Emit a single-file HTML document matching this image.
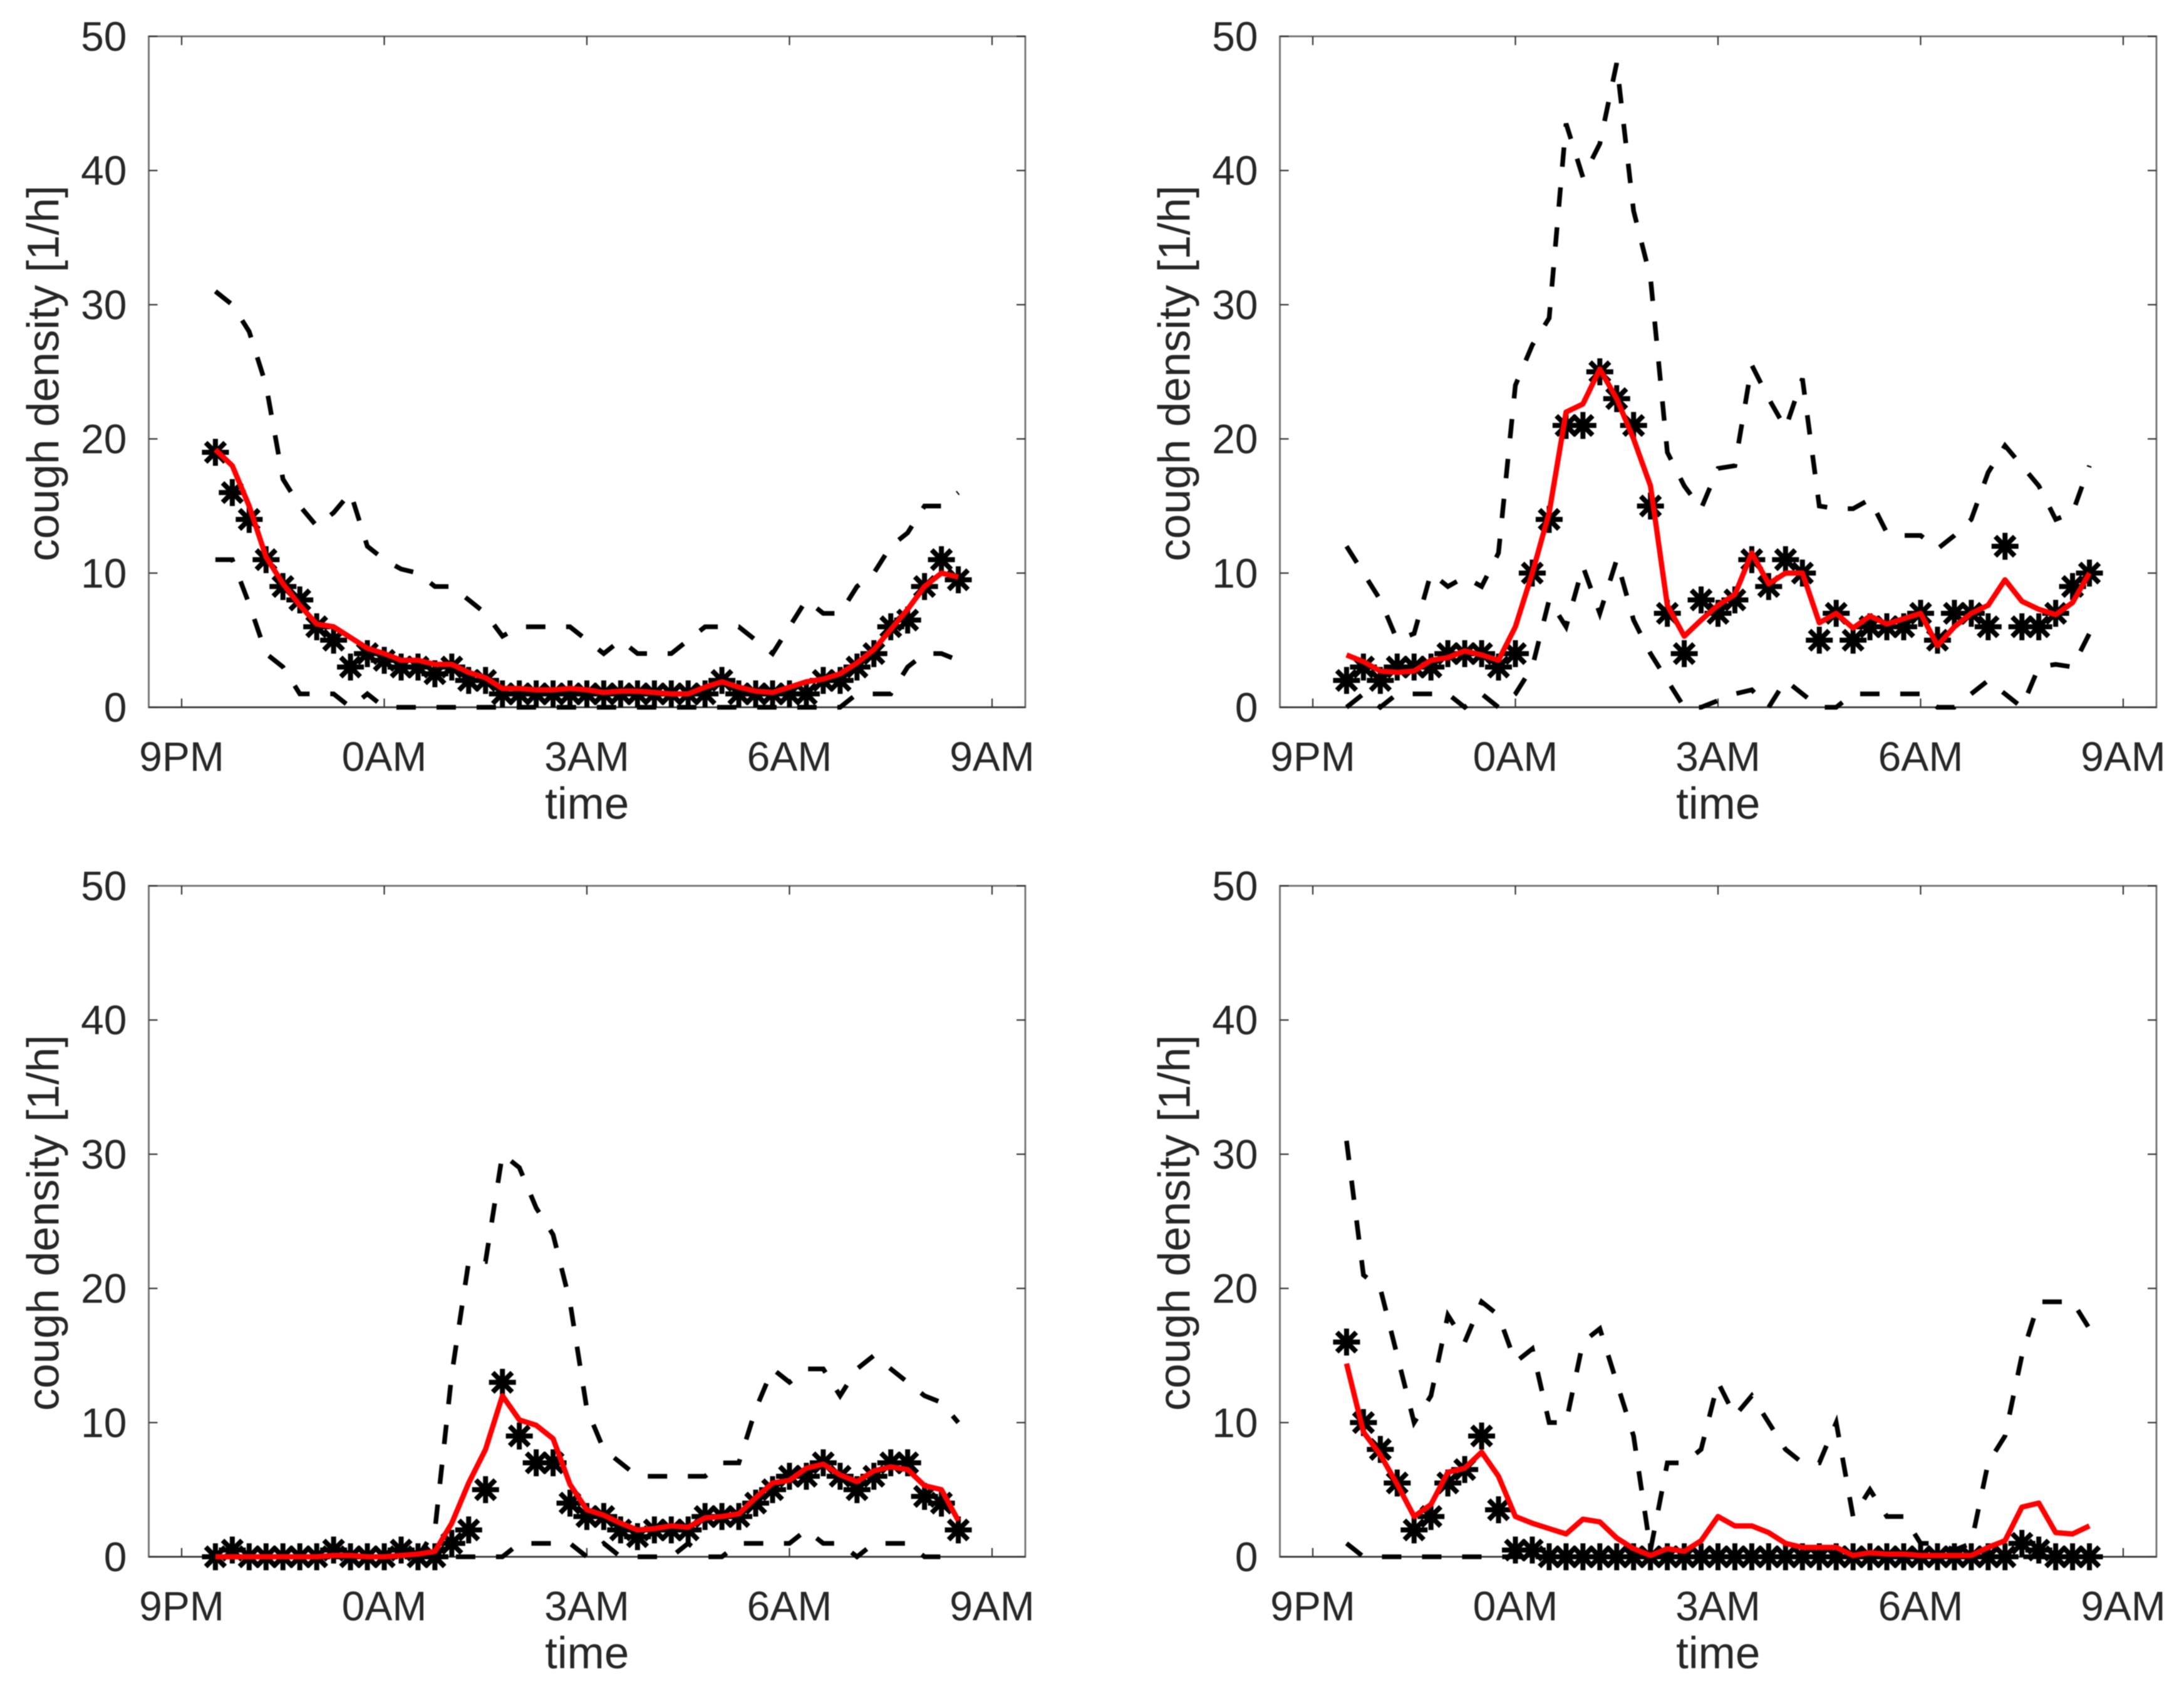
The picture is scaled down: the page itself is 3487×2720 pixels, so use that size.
<!DOCTYPE html>
<html>
<head>
<meta charset="utf-8">
<title>Cough density panels</title>
<style>
html,body{margin:0;padding:0;background:#fff;}
svg{display:block;filter:blur(0.7px);}
text{font-family:"Liberation Sans",sans-serif;fill:#262626;}
</style>
</head>
<body>
<svg id="figure" xmlns="http://www.w3.org/2000/svg" width="3487" height="2720" viewBox="0 0 3487 2720">
<rect x="0" y="0" width="3487" height="2720" fill="#ffffff"/>
</svg>
<script>
const sampleHours = [0.5,0.75,1,1.25,1.5,1.75,2,2.25,2.5,2.75,3,3.25,3.5,3.75,4,4.25,4.5,4.75,5,5.25,5.5,5.75,6,6.25,6.5,6.75,7,7.25,7.5,7.75,8,8.25,8.5,8.75,9,9.25,9.5,9.75,10,10.25,10.5,10.75,11,11.25,11.5];
const xTickHours = [0,3,6,9,12];
const xTickLabels = ['9PM','0AM','3AM','6AM','9AM'];
const yTickValues = [0,10,20,30,40,50];

const panel1Counts = [19,16,14,11,9,8,6,5,3,4,3.5,3,3,2.5,3,2,2,1,1,1,1,1,1,1,1,1,1,1,1,1,2,1,1,1,1,1,2,2,3,4,6,6.5,9,11,9.5];
const panel1Median = [19.2,18,15,11.2,9.2,7.6,6.2,6,5.2,4.4,4,3.5,3.5,3.2,3.2,2.6,2.2,1.4,1.4,1.3,1.3,1.4,1.3,1.1,1.2,1.2,1.1,1,1,1.5,1.9,1.5,1.2,1.1,1.5,1.9,2.1,2.5,3.3,4.3,5.8,7.3,9,10,9.7];
const panel1Upper = [31,30,28,24,17,15,13.5,14.5,16,12,11,10.3,10,9,9,8,7,5.3,6,6,6,6,5,4,5,4,4,4,5,6,6,6,5,4,6,8,7,7,9,10,12,13,15,15,16];
const panel1Lower = [11,11,7.7,4,3,1,1,1,0,1,0,0,0,0,0,0,0,0,0,0,0,0,0,0,0,0,0,0,0,0,0,0,0,0,0,0,0,0,1,1,1,3,4,4,3.5];

const panel2Counts = [2,3,2,3,3,3,4,4,4,3,4,10,14,21,21,25,23,21,15,7,4,8,7,8,11,9,11,10,5,7,5,6,6,6,7,5,7,7,6,12,6,6,7,9,10];
const panel2Median = [3.9,3.4,2.7,2.6,2.7,3.5,3.7,4.2,3.9,3.5,6,10,14.5,22,22.6,25.2,23,20,16.5,7.6,5.3,6.5,7.6,8.4,11.5,9.2,10,10,6.3,7,5.9,6.8,6.2,6.6,7,4.6,6,7,7.6,9.5,7.9,7.3,6.9,7.8,10];
const panel2Upper = [12,10,8,5,5.5,10,9,9.7,9,11.5,24,27,29,43.5,39.5,42,48,37,32,19,16.5,14.8,17.8,18,25.5,23,20.8,24.5,15,14.8,14.8,15.5,13,12.8,12.8,11.8,12.8,14,17.5,19.5,18,16.5,14,14.5,18];
const panel2Lower = [0,1,0,1,1,1,1,0,1,0,1,3,8,6,10.5,7,11,6.5,4,2,0,0,0.5,1,1.3,0,2,1,0,0,1,1,1,1,1,0,0,1,2,1,0,3,3.2,3,5.5];

const panel3Counts = [0,0.5,0,0,0,0,0,0.5,0,0,0,0.5,0,0,1,2,5,13,9,7,7,4,3,3,2,1.5,2,2,2,3,3,3,4,5,6,6,7,6,5,6,7,7,4.5,4,2];
const panel3Median = [0,0,0,0,0,0,0,0.1,0.1,0,0,0.1,0.2,0.4,2.5,5.5,8,12,10.2,9.8,8.8,5.4,3.5,3.1,2.5,2,2.1,2.3,2.2,2.9,3,3.2,4.4,5.5,5.7,6.6,6.9,6.1,5.6,6.4,6.7,6.5,5.3,5,2.7];
const panel3Upper = [0,0,0,0,0,0,0,0,0,0,0,0,0,2,13.6,22,22,30,29,26,24,19,11,8,7,6,6,6,6,6,7,7,11,14,13,14,14,12,14,15,14,13,12,11.5,10];
const panel3Lower = [0,0,0,0,0,0,0,0,0,0,0,0,0,0,0,0,0,0,1,1,1,1,0,1,0,0,0,0,1,0,0,1,1,1,1,2,1,1,0,1,1,1,0,0,0];

const panel4Counts = [16,10,8,5.5,2,3,5.5,6.5,9,3.5,0.5,0.5,0,0,0,0,0,0,0,0,0,0,0,0,0,0,0,0,0,0,0,0,0,0,0,0,0,0,0,0,1,0.5,0,0,0];
const panel4Median = [14.4,9.3,7.6,5.4,3,3.9,6.3,6.6,7.8,6,3,2.5,2.1,1.7,2.8,2.6,1.4,0.6,0.1,0.6,0.4,1.2,3,2.3,2.3,1.8,1,0.7,0.7,0.7,0.1,0.3,0.2,0.2,0.1,0.1,0.1,0.1,0.7,1.2,3.7,4,1.8,1.7,2.3];
const panel4Upper = [31,21,20,15,10,12,18,16,19,18,14.5,15.5,10,10,16,17,13,9,0.5,7,7,8,13,10.5,12,10,8,7,7,10,3,5,3,3,1,1,0.5,1,7,9,15,19,19,19,17];
const panel4Lower = [1,0,0,0,0,0,0,0,0,0,0,0,0,0,0,0,0,0,0,0,0,0,0,0,0,0,0,0,0,0,0,0,0,0,0,0,0,0,0,0,0,0,0,0,0];

const svgNS = 'http://www.w3.org/2000/svg';
const fig = document.getElementById('figure');
const xMinHour = -0.487;
const xMaxHour = 12.492;
const yMaxValue = 50;

function svgEl(tag, parent) {
  const el = document.createElementNS(svgNS, tag);
  parent.appendChild(el);
  return el;
}

function drawPanel(panelName, left, top, counts, median, upper, lower) {
  const width = 1399.5;
  const height = 1071;
  const right = left + width;
  const bottom = top + height;
  const sx = function (h) { return left + (h - xMinHour) / (xMaxHour - xMinHour) * width; };
  const sy = function (v) { return bottom - v / yMaxValue * height; };

  const g = svgEl('g', fig);
  
  

  const frame = svgEl('rect', g);
  
  
  frame.setAttribute('x', left);
  frame.setAttribute('y', top);
  frame.setAttribute('width', width);
  frame.setAttribute('height', height);
  frame.setAttribute('fill', 'none');
  frame.setAttribute('stroke', '#6e6e6e');
  frame.setAttribute('stroke-width', '2.8');

  const baseLine = svgEl('line', g);
  
  
  baseLine.setAttribute('x1', left);
  baseLine.setAttribute('x2', right);
  baseLine.setAttribute('y1', bottom);
  baseLine.setAttribute('y2', bottom);
  baseLine.setAttribute('stroke', '#333333');
  baseLine.setAttribute('stroke-width', '2.4');

  xTickHours.forEach(function (h, i) {
    const x = sx(h);
    [[bottom, bottom - 14], [top, top + 14]].forEach(function (pair) {
      const tick = svgEl('line', g);
      
      
      tick.setAttribute('x1', x);
      tick.setAttribute('x2', x);
      tick.setAttribute('y1', pair[0]);
      tick.setAttribute('y2', pair[1]);
      tick.setAttribute('stroke', '#333333');
      tick.setAttribute('stroke-width', '2.2');
    });
    const label = svgEl('text', g);
    
    
    label.setAttribute('x', x);
    label.setAttribute('y', bottom + 101.5);
    label.setAttribute('text-anchor', 'middle');
    label.setAttribute('font-size', '66');
    label.textContent = xTickLabels[i];
  });

  yTickValues.forEach(function (v) {
    const y = sy(v);
    [[left, left + 14], [right, right - 14]].forEach(function (pair) {
      const tick = svgEl('line', g);
      
      
      tick.setAttribute('x1', pair[0]);
      tick.setAttribute('x2', pair[1]);
      tick.setAttribute('y1', y);
      tick.setAttribute('y2', y);
      tick.setAttribute('stroke', '#333333');
      tick.setAttribute('stroke-width', '2.2');
    });
    const label = svgEl('text', g);
    
    
    label.setAttribute('x', left - 35);
    label.setAttribute('y', y + 23);
    label.setAttribute('text-anchor', 'end');
    label.setAttribute('font-size', '66');
    label.textContent = String(v);
  });

  const xTitle = svgEl('text', g);
  
  
  xTitle.setAttribute('x', left + width / 2);
  xTitle.setAttribute('y', bottom + 178);
  xTitle.setAttribute('text-anchor', 'middle');
  xTitle.setAttribute('font-size', '71');
  xTitle.textContent = 'time';

  const yTitle = svgEl('text', g);
  
  
  yTitle.setAttribute('transform', 'translate(' + (left - 144) + ',' + (top + 538) + ') rotate(-90)');
  yTitle.setAttribute('text-anchor', 'middle');
  yTitle.setAttribute('font-size', '71.5');
  yTitle.textContent = 'cough density [1/h]';

  function polyline(values) {
    return values.map(function (v, i) { return sx(sampleHours[i]).toFixed(1) + ',' + sy(v).toFixed(1); }).join(' ');
  }

  const upperLine = svgEl('polyline', g);
  
  
  upperLine.setAttribute('points', polyline(upper));
  upperLine.setAttribute('fill', 'none');
  upperLine.setAttribute('stroke', '#000000');
  upperLine.setAttribute('stroke-width', '7.5');
  upperLine.setAttribute('stroke-dasharray', '31 33');

  const lowerLine = svgEl('polyline', g);
  
  
  lowerLine.setAttribute('points', polyline(lower));
  lowerLine.setAttribute('fill', 'none');
  lowerLine.setAttribute('stroke', '#000000');
  lowerLine.setAttribute('stroke-width', '7.5');
  lowerLine.setAttribute('stroke-dasharray', '31 33');

  counts.forEach(function (v, i) {
    const cx = sx(sampleHours[i]);
    const cy = sy(v);
    const r = 21.5;
    const d = 15.5;
    const marker = svgEl('path', g);
    
    
    marker.setAttribute('d',
      'M' + (cx - r) + ' ' + cy + 'L' + (cx + r) + ' ' + cy +
      'M' + cx + ' ' + (cy - r) + 'L' + cx + ' ' + (cy + r) +
      'M' + (cx - d) + ' ' + (cy - d) + 'L' + (cx + d) + ' ' + (cy + d) +
      'M' + (cx - d) + ' ' + (cy + d) + 'L' + (cx + d) + ' ' + (cy - d));
    marker.setAttribute('stroke', '#000000');
    marker.setAttribute('stroke-width', '8');
    marker.setAttribute('fill', 'none');
  });

  const medianLine = svgEl('polyline', g);
  
  
  medianLine.setAttribute('points', polyline(median));
  medianLine.setAttribute('fill', 'none');
  medianLine.setAttribute('stroke', '#ff0000');
  medianLine.setAttribute('stroke-width', '8.5');
  medianLine.setAttribute('stroke-linejoin', 'round');
}

drawPanel('panel-top-left', 237.5, 58, panel1Counts, panel1Median, panel1Upper, panel1Lower);
drawPanel('panel-top-right', 2043.5, 58, panel2Counts, panel2Median, panel2Upper, panel2Lower);
drawPanel('panel-bottom-left', 237.5, 1414, panel3Counts, panel3Median, panel3Upper, panel3Lower);
drawPanel('panel-bottom-right', 2043.5, 1414, panel4Counts, panel4Median, panel4Upper, panel4Lower);
</script>
</body>
</html>
